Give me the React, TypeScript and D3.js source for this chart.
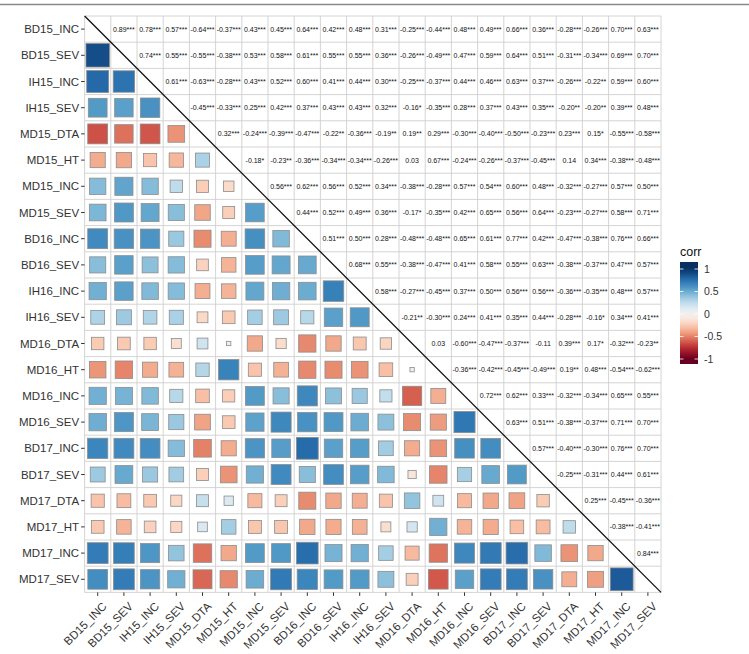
import * as d3 from "d3";

// Variable order on both axes
const vars = [
  "BD15_INC", "BD15_SEV", "IH15_INC", "IH15_SEV", "MD15_DTA", "MD15_HT",
  "MD15_INC", "MD15_SEV", "BD16_INC", "BD16_SEV", "IH16_INC", "IH16_SEV",
  "MD16_DTA", "MD16_HT", "MD16_INC", "MD16_SEV", "BD17_INC", "BD17_SEV",
  "MD17_DTA", "MD17_HT", "MD17_INC", "MD17_SEV",
];

// Upper triangle: row i holds corr(i, j) for j = i+1 .. n-1
const upperValues: number[][] = [
  [0.89, 0.78, 0.57, -0.64, -0.37, 0.43, 0.45, 0.64, 0.42, 0.48, 0.31, -0.25, -0.44, 0.48, 0.49, 0.66, 0.36, -0.28, -0.26, 0.70, 0.63],
  [0.74, 0.55, -0.55, -0.38, 0.53, 0.58, 0.61, 0.55, 0.55, 0.36, -0.26, -0.49, 0.47, 0.59, 0.64, 0.51, -0.31, -0.34, 0.69, 0.70],
  [0.61, -0.63, -0.28, 0.43, 0.52, 0.60, 0.41, 0.44, 0.30, -0.25, -0.37, 0.44, 0.46, 0.63, 0.37, -0.26, -0.22, 0.59, 0.60],
  [-0.45, -0.33, 0.25, 0.42, 0.37, 0.43, 0.43, 0.32, -0.16, -0.35, 0.28, 0.37, 0.43, 0.35, -0.20, -0.20, 0.39, 0.48],
  [0.32, -0.24, -0.39, -0.47, -0.22, -0.36, -0.19, 0.19, 0.29, -0.30, -0.40, -0.50, -0.23, 0.23, 0.15, -0.55, -0.58],
  [-0.18, -0.23, -0.36, -0.34, -0.34, -0.26, 0.03, 0.67, -0.24, -0.26, -0.37, -0.45, 0.14, 0.34, -0.38, -0.48],
  [0.56, 0.62, 0.56, 0.52, 0.34, -0.38, -0.28, 0.57, 0.54, 0.60, 0.48, -0.32, -0.27, 0.57, 0.50],
  [0.44, 0.52, 0.49, 0.36, -0.17, -0.35, 0.42, 0.65, 0.56, 0.64, -0.23, -0.27, 0.58, 0.71],
  [0.51, 0.50, 0.28, -0.48, -0.48, 0.65, 0.61, 0.77, 0.42, -0.47, -0.38, 0.76, 0.66],
  [0.68, 0.55, -0.38, -0.47, 0.41, 0.58, 0.55, 0.63, -0.38, -0.37, 0.47, 0.57],
  [0.58, -0.27, -0.45, 0.37, 0.50, 0.56, 0.56, -0.36, -0.35, 0.48, 0.57],
  [-0.21, -0.30, 0.24, 0.41, 0.35, 0.44, -0.28, -0.16, 0.34, 0.41],
  [0.03, -0.60, -0.47, -0.37, -0.11, 0.39, 0.17, -0.32, -0.23],
  [-0.36, -0.42, -0.45, -0.49, 0.19, 0.48, -0.54, -0.62],
  [0.72, 0.62, 0.33, -0.32, -0.34, 0.65, 0.55],
  [0.63, 0.51, -0.38, -0.37, 0.71, 0.70],
  [0.57, -0.40, -0.30, 0.76, 0.70],
  [-0.25, -0.31, 0.44, 0.61],
  [0.25, -0.45, -0.36],
  [-0.38, -0.41],
  [0.84],
];

// Significance stars (count of '*') matching upperValues
const upperStars: number[][] = [
  [3, 3, 3, 3, 3, 3, 3, 3, 3, 3, 3, 3, 3, 3, 3, 3, 3, 3, 3, 3, 3],
  [3, 3, 3, 3, 3, 3, 3, 3, 3, 3, 3, 3, 3, 3, 3, 3, 3, 3, 3, 3],
  [3, 3, 3, 3, 3, 3, 3, 3, 3, 3, 3, 3, 3, 3, 3, 3, 2, 3, 3],
  [3, 3, 3, 3, 3, 3, 3, 3, 1, 3, 3, 3, 3, 3, 2, 2, 3, 3],
  [3, 3, 3, 3, 2, 3, 2, 2, 3, 3, 3, 3, 3, 3, 1, 3, 3],
  [1, 2, 3, 3, 3, 3, 0, 3, 3, 3, 3, 3, 0, 3, 3, 3],
  [3, 3, 3, 3, 3, 3, 3, 3, 3, 3, 3, 3, 3, 3, 3],
  [3, 3, 3, 3, 1, 3, 3, 3, 3, 3, 3, 3, 3, 3],
  [3, 3, 3, 3, 3, 3, 3, 3, 3, 3, 3, 3, 3],
  [3, 3, 3, 3, 3, 3, 3, 3, 3, 3, 3, 3],
  [3, 3, 3, 3, 3, 3, 3, 3, 3, 3, 3],
  [2, 3, 3, 3, 3, 3, 3, 1, 3, 3],
  [0, 3, 3, 3, 0, 3, 1, 3, 2],
  [3, 3, 3, 3, 2, 3, 3, 3],
  [3, 3, 3, 3, 3, 3, 3],
  [3, 3, 3, 3, 3, 3],
  [3, 3, 3, 3, 3],
  [3, 3, 3, 3],
  [3, 3, 3],
  [3, 3],
  [3],
];

const legendTicks = [1, 0.5, 0, -0.5, -1];

const corr = (i: number, j: number): number => {
  if (i === j) return 1;
  const a = Math.min(i, j);
  const b = Math.max(i, j);
  return upperValues[a][b - a - 1];
};

const W = 749;
const H = 654;
const n = vars.length;
const left = 84.6;
const top = 16;
const size = 26.2 * n;
const FONT = "'Liberation Sans', Arial, sans-serif";

export default function App() {
  const x = d3.scaleBand<string>().domain(vars).range([left, left + size]);
  const y = d3.scaleBand<string>().domain(vars).range([top, top + size]);
  const bw = x.bandwidth();
  const color = d3.scaleSequential(d3.interpolateRdBu).domain([-1, 1]);
  const side = d3.scaleSqrt().domain([0, 1]).range([0, bw * 0.95]);

  const lower: { i: number; j: number; r: number }[] = [];
  const upper: { i: number; j: number; r: number; s: number }[] = [];
  for (let i = 0; i < n; i++) {
    for (let j = 0; j < n; j++) {
      if (i > j) lower.push({ i, j, r: corr(i, j) });
      if (j > i) upper.push({ i, j, r: corr(i, j), s: upperStars[i][j - i - 1] });
    }
  }

  // legend colour bar
  const barX = 680;
  const barW = 18;
  const barTop = 262;
  const barBottom = 364;
  const ly = d3.scaleLinear().domain([1, -1]).range([barTop + 7, barBottom - 5]);
  const stops = d3.range(0, 1.0001, 0.05);

  const bottom = top + size;

  return (
    <svg
      width={W}
      height={H}
      style={{ position: "absolute", left: 0, top: 0, background: "#fff" }}
      fontFamily={FONT}
    >
      <defs>
        <linearGradient id="corrbar" x1="0" y1="1" x2="0" y2="0">
          {stops.map((t) => (
            <stop key={t} offset={t} stopColor={color(ly.invert(barBottom - t * (barBottom - barTop)))} />
          ))}
        </linearGradient>
      </defs>

      <line x1={0} x2={W} y1={4.5} y2={4.5} stroke="#8a8a8a" strokeWidth={1.5} />

      {/* grid */}
      <g stroke="#cfcfcf" strokeWidth={0.9}>
        {d3.range(n + 1).map((k) => (
          <line key={"v" + k} x1={left + k * bw} x2={left + k * bw} y1={top} y2={bottom} />
        ))}
        {d3.range(n + 1).map((k) => (
          <line key={"h" + k} x1={left} x2={left + size} y1={top + k * bw} y2={top + k * bw} />
        ))}
      </g>

      {/* lower triangle squares */}
      {lower.map((d) => {
        const s = side(Math.abs(d.r));
        const cx = x(vars[d.j])! + bw / 2;
        const cy = y(vars[d.i])! + bw / 2;
        return (
          <rect
            key={`${d.i}-${d.j}`}
            x={cx - s / 2}
            y={cy - s / 2}
            width={s}
            height={s}
            fill={color(d.r)}
            stroke="#8c8c8c"
            strokeWidth={0.8}
          />
        );
      })}

      {/* upper triangle coefficients */}
      {upper.map((d) => (
        <text
          key={`t${d.i}-${d.j}`}
          x={x(vars[d.j])! + bw / 2}
          y={y(vars[d.i])! + bw / 2}
          dy="0.35em"
          textAnchor="middle"
          fontSize={7}
          fill="#111"
        >
          {d.r.toFixed(2) + "*".repeat(d.s)}
        </text>
      ))}

      <line x1={left} y1={top} x2={left + size} y2={bottom} stroke="#111" strokeWidth={1.3} />

      {/* y axis */}
      {vars.map((v) => (
        <g key={"y" + v} transform={`translate(${left},${y(v)! + bw / 2})`}>
          <line x1={-3.5} x2={0} stroke="#333" strokeWidth={1} />
          <text x={-5.5} dy="0.36em" textAnchor="end" fontSize={11.5} fill="#333">
            {v}
          </text>
        </g>
      ))}

      {/* x axis */}
      {vars.map((v) => (
        <g key={"x" + v} transform={`translate(${x(v)! + bw / 2},${bottom})`}>
          <line y1={0} y2={3.5} stroke="#333" strokeWidth={1} />
          <text
            transform="translate(4,9) rotate(-45)"
            textAnchor="end"
            dy="0.7em"
            fontSize={11.5}
            fill="#333"
          >
            {v}
          </text>
        </g>
      ))}

      {/* legend */}
      <text x={barX} y={barTop - 6} fontSize={12.5} fill="#111">
        corr
      </text>
      <rect x={barX} y={barTop} width={barW} height={barBottom - barTop} fill="url(#corrbar)" />
      {legendTicks.map((t) => (
        <g key={"l" + t}>
          <line x1={barX} x2={barX + 3.5} y1={ly(t)} y2={ly(t)} stroke="#fff" strokeWidth={0.8} />
          <line x1={barX + barW - 3.5} x2={barX + barW} y1={ly(t)} y2={ly(t)} stroke="#fff" strokeWidth={0.8} />
          <text x={barX + barW + 6} y={ly(t)} dy="0.35em" fontSize={10.5} fill="#333">
            {t}
          </text>
        </g>
      ))}
    </svg>
  );
}
